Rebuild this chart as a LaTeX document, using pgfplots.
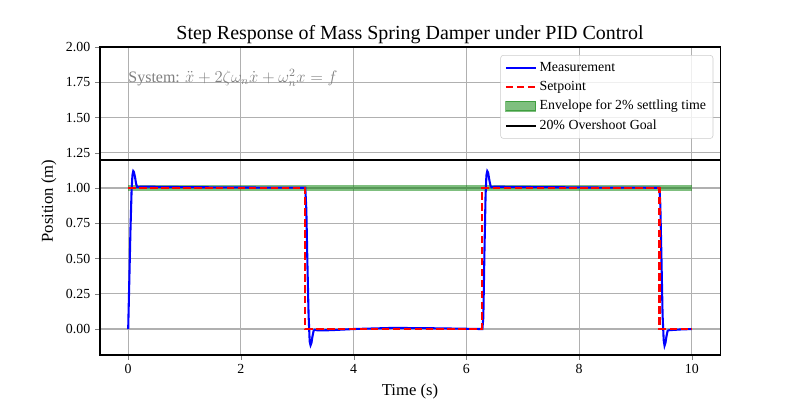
\documentclass[border=0pt]{standalone}
\usepackage{fontspec}
\setmainfont{Liberation Serif}
\usepackage{pgfplots}
\pgfplotsset{compat=1.18}
\definecolor{gridgray}{HTML}{B0B0B0}
\definecolor{mplgreen}{HTML}{008000}
\begin{document}
\begin{tikzpicture}[x=1pt,y=1pt]
% bounding box: 799x399 px -> 576 x 287.6 pt; axis box from px (100,47) to (720,355)
\path[use as bounding box] (-72.1,-31.7) rectangle (503.9,255.9);
\begin{axis}[
  at={(0,0)}, anchor=south west,
  scale only axis, width=447pt, height=222pt,
  xmin=-0.5, xmax=10.5, ymin=-0.184, ymax=2.0,
  xtick={0,2,4,6,8,10},
  ytick={0,0.25,0.5,0.75,1,1.25,1.5,1.75,2},
  yticklabel style={/pgf/number format/.cd, fixed, fixed zerofill, precision=2},
  /pgf/number format/assume math mode=true,
  tick label style={font=\fontsize{10}{12}\selectfont},
  tick align=outside, xtick pos=bottom, ytick pos=left,
  major tick length=3.5pt,
  grid=major, grid style={gridgray, line width=0.8pt},
  axis line style={line width=0.8pt},
  xlabel={Time (s)}, ylabel={Position (m)},
  label style={font=\fontsize{12}{14}\selectfont},
  title={Step Response of Mass Spring Damper under PID Control},
  title style={font=\fontsize{14.4}{17}\selectfont, yshift=-7pt},
  legend style={at={(rel axis cs:0.989,0.974)}, anchor=north east,
    font=\fontsize{10}{12}\selectfont, draw=gray!40, rounded corners=2pt, fill=white, fill opacity=0.8, text opacity=1, row sep=1.6pt, inner xsep=3pt, inner ysep=3pt},
  legend image code/.code={\draw[sharp corners, #1] (0pt,0pt) -- (21.6pt,0pt);},
  legend cell align=left,
  clip=true,
]
\addplot[draw=none, fill=mplgreen, fill opacity=0.5, forget plot] coordinates {(0,0.98) (10,0.98) (10,1.02) (0,1.02)} -- cycle;
\addplot[blue, line width=1.5pt] coordinates {
(0,0) (0.02,0.35) (0.04,0.70) (0.06,0.98) (0.075,1.09) (0.09,1.12) (0.10,1.115) (0.12,1.08) (0.14,1.03) (0.16,1.006) (0.18,1.006) (0.22,1.010) (0.3,1.010) (0.6,1.008) (1.5,1.005) (2.5,1.003) (3.1416,1.002)
(3.16,0.85) (3.18,0.45) (3.20,0.10) (3.22,-0.09) (3.235,-0.115) (3.25,-0.10) (3.27,-0.05) (3.29,-0.012) (3.31,-0.005) (3.36,-0.010) (3.6,-0.008) (4.0,0.0) (4.7,0.008) (5.5,0.005) (6.2832,0.0)
(6.30,0.08) (6.32,0.55) (6.34,0.95) (6.355,1.09) (6.37,1.12) (6.385,1.11) (6.41,1.05) (6.43,1.012) (6.45,1.006) (6.5,1.010) (6.8,1.008) (7.5,1.006) (8.5,1.003) (9.4248,1.002)
(9.44,0.88) (9.46,0.50) (9.48,0.10) (9.50,-0.08) (9.515,-0.118) (9.53,-0.10) (9.55,-0.05) (9.57,-0.012) (9.60,-0.008) (9.8,-0.003) (10,0.0)
};
\addlegendentry{Measurement}
\addplot[red, line width=1.5pt, dash pattern=on 5.5pt off 2.4pt] coordinates {
(0,1) (3.1416,1) (3.1416,0) (6.2832,0) (6.2832,1) (9.4248,1) (9.4248,0) (10,0)
};
\addlegendentry{Setpoint}
\addlegendimage{legend image code/.code={\draw[sharp corners, draw=mplgreen, fill=mplgreen, opacity=0.5, line width=0.8pt] (0pt,-3.5pt) rectangle (21.6pt,3.5pt);}}
\addlegendentry{Envelope for 2\% settling time}
\addplot[black, line width=1.5pt] coordinates {(-0.5,1.2) (10.5,1.2)};
\addlegendentry{20\% Overshoot Goal}
\node[anchor=base west, inner sep=0pt, text=gray, font=\fontsize{11.5}{14}\selectfont] at (axis cs:0,1.75) {System: $\ddot{x}+2\zeta\omega_n\dot{x}+\omega_n^2x=f$};
\end{axis}
\end{tikzpicture}
\end{document}
